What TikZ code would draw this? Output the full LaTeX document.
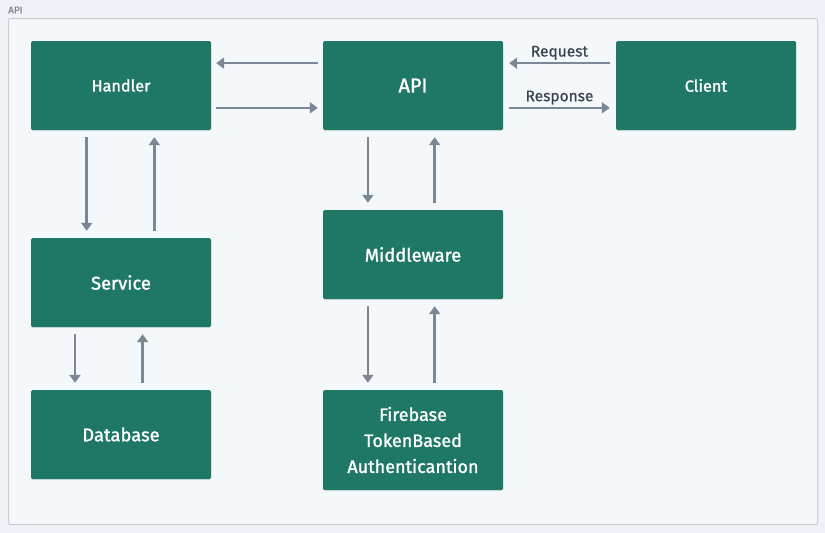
\documentclass[tikz,border=0pt]{standalone}
\usepackage{fontspec}
\setmainfont{Fira Sans}
\newfontfamily\boxfont{Fira Sans}[FakeBold=1.3]
\newfontfamily\lblfont{Fira Sans}[FakeBold=0.7]
\usetikzlibrary{arrows.meta,calc,shadows}
\definecolor{boxgreen}{HTML}{1F7866}
\definecolor{bgc}{HTML}{EFF3F7}
\definecolor{framec}{HTML}{C9CED4}
\definecolor{arrc}{HTML}{7B8794}
\definecolor{labc}{HTML}{3A4350}
\definecolor{titc}{HTML}{7F8792}
\tikzset{
  x=1pt,y=-1pt,
  comp/.style={fill=boxgreen, draw=none, rounded corners=1.5pt, minimum width=180pt, minimum height=89pt,
    text=white, font=\boxfont\fontsize{18.4}{21}\selectfont, align=center, inner sep=0pt,
    drop shadow={shadow xshift=0pt, shadow yshift=-1.2pt, opacity=0.18}},
  small/.style={font=\boxfont\fontsize{16.2}{19}\selectfont},
  arr/.style={draw=arrc, line width=2.6pt, -{Triangle[length=8pt,width=11pt]}},
  hgap/.style={shorten <=5pt, shorten >=5pt},
  vgap/.style={shorten <=7pt, shorten >=7pt},
  lbl/.style={text=labc, font=\lblfont\fontsize{15.5}{18}\selectfont, inner sep=0pt}
}
\begin{document}
\begin{tikzpicture}
\useasboundingbox (0,0) rectangle (825,533);
\fill[bgc] (0,0) rectangle (825,533);
\draw[framec, line width=1pt, rounded corners=2pt, fill=white!40!bgc] (8.5,18.5) rectangle (817.5,524.5);
\node[text=titc, font=\lblfont\fontsize{10}{11}\selectfont, anchor=west, inner sep=0pt] (title) at (8,10) {API};

\node[comp, small] (handler) at (121,85.5) {Handler};
\node[comp, font=\boxfont\fontsize{20}{23}\selectfont] (api) at (413,85.5) {API};
\node[comp, small] (client) at (706,85.5) {Client};
\node[comp] (service) at (121,282.5) {Service};
\node[comp] (middleware) at (413,254.5) {Middleware};
\node[comp] (database) at (121,434.5) {Database};
\node[comp, minimum height=100pt, font=\boxfont\fontsize{18}{26}\selectfont] (firebase) at (413,440) {Firebase\\TokenBased\\Authenticantion};

% Handler <-> API
\draw[arr,hgap] ($(api.north west)!0.25!(api.south west)$) -- ($(handler.north east)!0.25!(handler.south east)$);
\draw[arr,hgap] ($(handler.north east)!0.75!(handler.south east)$) -- ($(api.north west)!0.75!(api.south west)$);
% Client <-> API
\draw[arr,shorten <=6pt,shorten >=6pt] ($(client.north west)!0.25!(client.south west)$) -- node[lbl, above=2pt] (reqlbl) {Request} ($(api.north east)!0.25!(api.south east)$);
\draw[arr,shorten <=6pt,shorten >=6pt] ($(api.north east)!0.75!(api.south east)$) -- node[lbl, above=2pt] (reslbl) {Response} ($(client.north west)!0.75!(client.south west)$);
% Handler <-> Service
\draw[arr,vgap] ($(handler.south west)!0.31!(handler.south east)$) -- ($(service.north west)!0.31!(service.north east)$);
\draw[arr,vgap] ($(service.north west)!0.685!(service.north east)$) -- ($(handler.south west)!0.685!(handler.south east)$);
% Service <-> Database
\draw[arr,vgap] ($(service.south west)!0.245!(service.south east)$) -- ($(database.north west)!0.245!(database.north east)$);
\draw[arr,vgap] ($(database.north west)!0.62!(database.north east)$) -- ($(service.south west)!0.62!(service.south east)$);
% API <-> Middleware
\draw[arr,vgap] ($(api.south west)!0.25!(api.south east)$) -- ($(middleware.north west)!0.25!(middleware.north east)$);
\draw[arr,vgap] ($(middleware.north west)!0.62!(middleware.north east)$) -- ($(api.south west)!0.62!(api.south east)$);
% Middleware <-> Firebase
\draw[arr,vgap] ($(middleware.south west)!0.25!(middleware.south east)$) -- ($(firebase.north west)!0.25!(firebase.north east)$);
\draw[arr,vgap] ($(firebase.north west)!0.62!(firebase.north east)$) -- ($(middleware.south west)!0.62!(middleware.south east)$);
\end{tikzpicture}
\end{document}
